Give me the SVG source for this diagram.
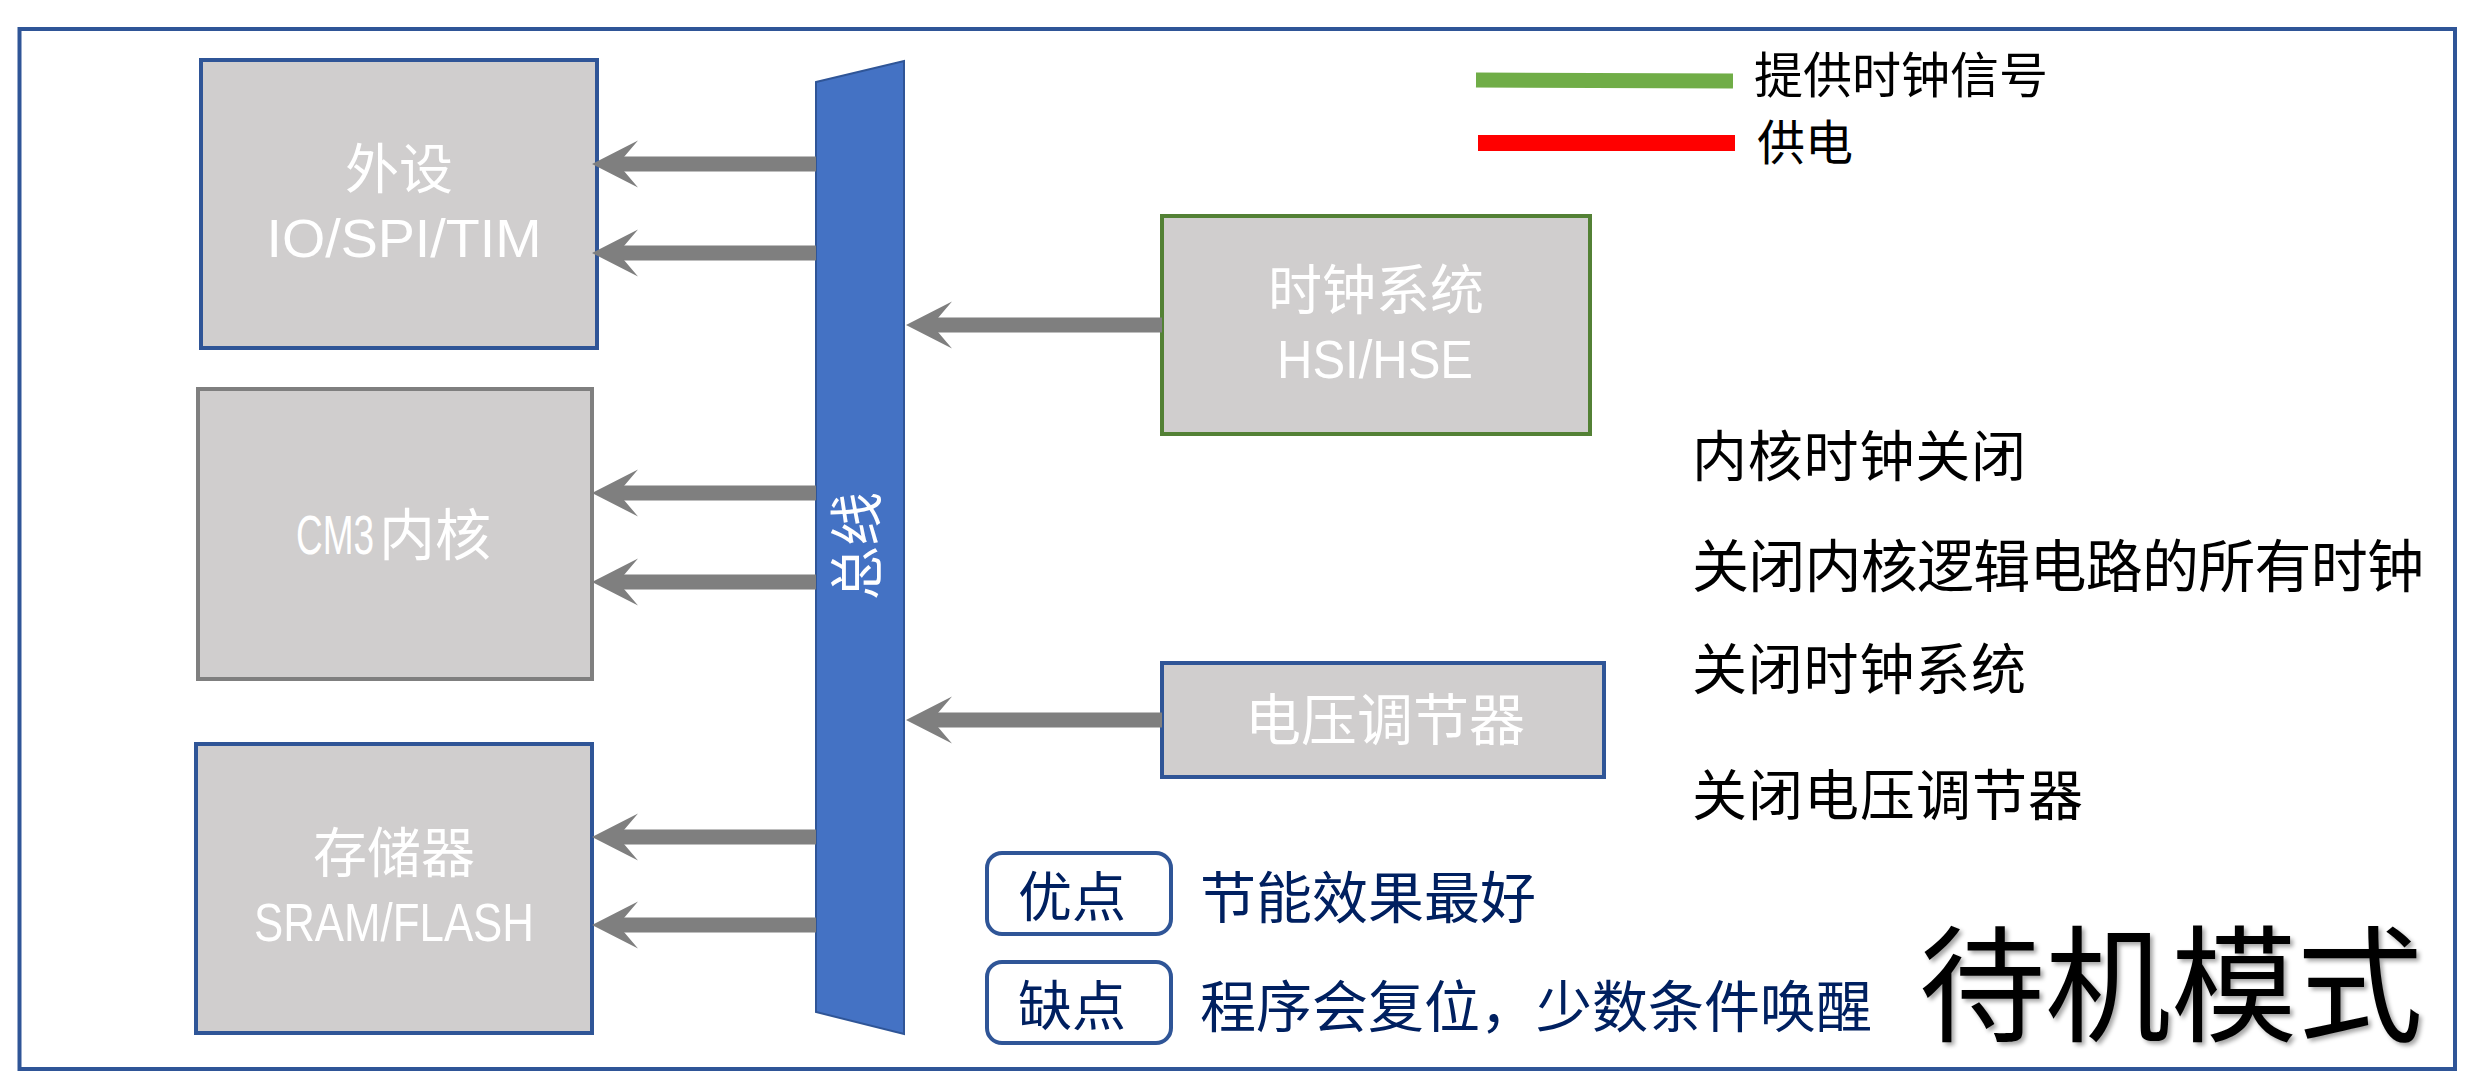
<svg xmlns="http://www.w3.org/2000/svg" width="2469" height="1079" viewBox="0 0 2469 1079">
<style>
.box{fill:#D0CECE;stroke-width:4}
.blue{stroke:#2F5597}
.gray{stroke:#7F7F7F}
.green{stroke:#538135}
.wt{fill:#FFFFFF;font-family:"Liberation Sans","Noto Sans CJK SC",sans-serif;font-size:54px;text-anchor:middle;dominant-baseline:central}
.bt{fill:#000000;font-family:"Noto Sans CJK SC",sans-serif;font-size:55px;dominant-baseline:central}
.nv{fill:#002060;font-family:"Noto Sans CJK SC",sans-serif;font-size:56px;dominant-baseline:central}
.pill{fill:#FFFFFF;stroke:#2F5597;stroke-width:4}
.arr{stroke:#7F7F7F;stroke-width:15;fill:none;marker-end:url(#head)}
</style>
<defs>
<marker id="head" markerUnits="userSpaceOnUse" markerWidth="46" markerHeight="47" viewBox="0 0 46 47" refX="20" refY="23.5" orient="auto" overflow="visible">
<path d="M0,0 L46,23.5 L0,47 L20,23.5 Z" fill="#7F7F7F"/>
</marker>
<filter id="shadow" x="-10%" y="-10%" width="120%" height="130%">
<feDropShadow dx="3" dy="3" stdDeviation="2" flood-color="#000" flood-opacity="0.35"/>
</filter>
</defs>
<rect x="0" y="0" width="2469" height="1079" fill="#FFFFFF"/>
<rect id="frame" x="19.5" y="29" width="2435.5" height="1040" fill="none" stroke="#2F5597" stroke-width="4"/>

<g id="legend">
<line x1="1476" y1="80" x2="1733" y2="81" stroke="#70AD47" stroke-width="15"/>
<line x1="1478" y1="143" x2="1735" y2="143" stroke="#FF0000" stroke-width="16"/>
<text x="1754" y="71" style="font-family:'Noto Sans CJK SC',sans-serif;font-size:49px;dominant-baseline:central">提供时钟信号</text>
<text x="1757" y="139" style="font-family:'Noto Sans CJK SC',sans-serif;font-size:48px;dominant-baseline:central">供电</text>
</g>

<g id="peripheral">
<rect class="box blue" x="201" y="60" width="396" height="288"/>
<text class="wt" x="399" y="170">外设</text>
<text class="wt" x="404" y="238" textLength="275" lengthAdjust="spacingAndGlyphs">IO/SPI/TIM</text>
</g>

<g id="core">
<rect class="box gray" x="198" y="389" width="394" height="290"/>
<text class="wt" transform="translate(296 535) scale(0.66 1)" x="0" y="0" style="text-anchor:start;font-size:56px">CM3</text>
<text class="wt" x="379" y="535" style="text-anchor:start;font-size:56px">内核</text>
</g>

<g id="memory">
<rect class="box blue" x="196" y="744" width="396" height="289"/>
<text class="wt" x="394" y="854">存储器</text>
<text class="wt" x="394" y="922" textLength="280" lengthAdjust="spacingAndGlyphs">SRAM/FLASH</text>
</g>

<g id="bus">
<polygon points="816,82 904,61 904,1034 816,1012" fill="#4472C4" stroke="#2F5597" stroke-width="2"/>
<text class="wt" x="858" y="546" transform="rotate(-90 858 546)">总线</text>
</g>

<g id="clock">
<rect class="box green" x="1162" y="216" width="428" height="218"/>
<text class="wt" x="1376" y="291">时钟系统</text>
<text class="wt" x="1375" y="359" textLength="196" lengthAdjust="spacingAndGlyphs">HSI/HSE</text>
</g>

<g id="regulator">
<rect class="box blue" x="1162" y="663" width="442" height="114"/>
<text class="wt" x="1385" y="720" style="font-size:56px">电压调节器</text>
</g>

<g id="connectors">
<line class="arr" x1="816" y1="164" x2="618" y2="164"/>
<line class="arr" x1="816" y1="253" x2="618" y2="253"/>
<line class="arr" x1="816" y1="493" x2="618" y2="493"/>
<line class="arr" x1="816" y1="582" x2="618" y2="582"/>
<line class="arr" x1="816" y1="837" x2="618" y2="837"/>
<line class="arr" x1="816" y1="925" x2="618" y2="925"/>
<line class="arr" x1="1162" y1="325" x2="932" y2="325"/>
<line class="arr" x1="1162" y1="720" x2="932" y2="720"/>
</g>

<g id="notes">
<text class="bt" x="1692" y="452" textLength="334">内核时钟关闭</text>
<text class="bt" x="1692" y="562" style="font-size:57px" textLength="732">关闭内核逻辑电路的所有时钟</text>
<text class="bt" x="1692" y="665" textLength="334">关闭时钟系统</text>
<text class="bt" x="1692" y="791" textLength="391">关闭电压调节器</text>
</g>

<g id="pros">
<rect class="pill" x="987" y="853" width="184" height="81" rx="15"/>
<text class="nv" x="1072" y="893" style="text-anchor:middle;font-size:54px">优点</text>
<text class="nv" x="1200" y="893">节能效果最好</text>
</g>

<g id="cons">
<rect class="pill" x="987" y="962" width="184" height="81" rx="15"/>
<text class="nv" x="1072" y="1002" style="text-anchor:middle;font-size:54px">缺点</text>
<text class="nv" x="1200" y="1002">程序会复位，少数条件唤醒</text>
</g>

<g id="title">
<text x="1919" y="977" filter="url(#shadow)" style="font-family:'Noto Sans CJK SC',sans-serif;font-size:126px;dominant-baseline:central;fill:#000">待机模式</text>
</g>
</svg>
